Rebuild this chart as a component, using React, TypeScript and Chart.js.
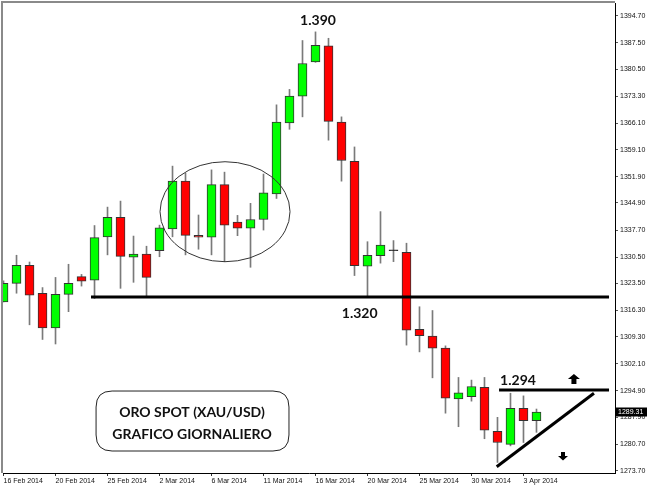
import React, { useEffect, useRef } from 'react';
import { Chart, registerables } from 'chart.js';

Chart.register(...registerables);

// ---- data ----
const dates = [
  '16 Feb 2014', '17 Feb 2014', '18 Feb 2014', '19 Feb 2014', '20 Feb 2014', '21 Feb 2014',
  '23 Feb 2014', '24 Feb 2014', '25 Feb 2014', '26 Feb 2014', '27 Feb 2014', '28 Feb 2014',
  '2 Mar 2014', '3 Mar 2014', '4 Mar 2014', '5 Mar 2014', '6 Mar 2014', '7 Mar 2014',
  '9 Mar 2014', '10 Mar 2014', '11 Mar 2014', '12 Mar 2014', '13 Mar 2014', '14 Mar 2014',
  '16 Mar 2014', '17 Mar 2014', '18 Mar 2014', '19 Mar 2014', '20 Mar 2014', '21 Mar 2014',
  '23 Mar 2014', '24 Mar 2014', '25 Mar 2014', '26 Mar 2014', '27 Mar 2014', '28 Mar 2014',
  '30 Mar 2014', '31 Mar 2014', '1 Apr 2014', '2 Apr 2014', '3 Apr 2014', '4 Apr 2014',
];

const opens = [
  1318.6, 1323.5, 1328.3, 1320.9, 1311.7, 1320.6, 1325.3, 1324.4, 1335.9, 1341.1, 1330.5, 1331.3,
  1332.2, 1338.0, 1350.7, 1336.3, 1335.8, 1349.8, 1339.8, 1338.2, 1340.5, 1347.3, 1366.2, 1373.3,
  1382.4, 1386.7, 1366.4, 1356.0, 1328.1, 1330.9, 1332.2, 1331.8, 1311.3, 1309.5, 1306.3, 1292.8,
  1293.4, 1295.9, 1284.2, 1280.7, 1290.3, 1287.0,
];
const highs = [
  1324.2, 1331.0, 1329.2, 1322.4, 1325.1, 1328.6, 1325.9, 1338.9, 1343.8, 1345.4, 1336.1, 1333.4,
  1339.0, 1354.7, 1352.8, 1341.7, 1353.7, 1353.1, 1341.6, 1344.8, 1352.6, 1371.0, 1375.1, 1388.1,
  1390.4, 1388.7, 1367.8, 1359.8, 1334.6, 1342.6, 1334.9, 1334.2, 1317.3, 1316.3, 1306.9, 1298.5,
  1297.8, 1298.5, 1287.9, 1294.3, 1293.6, 1290.1,
];
const lows = [
  1318.6, 1320.9, 1312.5, 1308.6, 1307.4, 1316.0, 1322.8, 1319.5, 1331.1, 1322.2, 1323.8, 1320.0,
  1330.6, 1335.9, 1331.1, 1332.6, 1331.1, 1329.3, 1336.2, 1327.8, 1337.7, 1346.1, 1364.5, 1367.8,
  1382.3, 1361.6, 1350.7, 1325.6, 1320.2, 1328.9, 1329.3, 1307.1, 1305.3, 1298.4, 1289.0, 1285.4,
  1292.2, 1282.2, 1275.9, 1280.3, 1281.2, 1283.9,
];
const closes = [
  1323.5, 1328.3, 1320.4, 1311.7, 1320.6, 1323.5, 1324.1, 1335.7, 1341.1, 1330.7, 1331.3, 1325.1,
  1338.3, 1350.7, 1336.3, 1335.8, 1349.8, 1339.0, 1338.2, 1340.5, 1347.6, 1366.4, 1373.3, 1382.0,
  1386.8, 1366.6, 1356.2, 1328.2, 1331.0, 1333.7, 1332.2, 1311.1, 1309.6, 1306.3, 1293.0, 1294.4,
  1296.1, 1284.5, 1281.2, 1290.3, 1287.0, 1289.3,
];

const priceTicks = [
  1394.7, 1387.5, 1380.5, 1373.3, 1366.1, 1359.1, 1351.9, 1344.9, 1337.7, 1330.5, 1323.5,
  1316.3, 1309.3, 1302.1, 1294.9, 1287.9, 1280.7, 1273.7,
];
const dateTickIndex = [0, 4, 8, 12, 16, 20, 24, 28, 32, 36, 40];
const currentPriceLabel = '1289.31';

// annotation levels (price / bar index coordinates)
const supportLevel = 1319.9;
const supportLabel = '1.320';
const peakLabel = '1.390';
const resistanceLevel = 1295.16;
const resistanceLabel = '1.294';
const titleLines = ['ORO SPOT (XAU/USD)', 'GRAFICO GIORNALIERO'];

const UP = '#00ff00';
const DOWN = '#ff0000';
const DOJI = '#000000';
const WICK = '#7a7a7a';

const annotate = {
  id: 'annotate',
  afterDraw(chart: any) {
    const { ctx, chartArea: ca, scales } = chart;
    const xs = scales.x;
    const ys = scales.y;
    const px = (i: number) => xs.getPixelForValue(i);
    const py = (p: number) => ys.getPixelForValue(p);
    ctx.save();

    // frame (gray top/left)
    ctx.strokeStyle = '#8a8a8a';
    ctx.lineWidth = 2;
    ctx.beginPath();
    ctx.moveTo(ca.left - 1, ca.bottom);
    ctx.lineTo(ca.left - 1, ca.top - 1);
    ctx.lineTo(ca.right, ca.top - 1);
    ctx.stroke();

    // support line 1.320
    ctx.strokeStyle = '#000';
    ctx.lineWidth = 3;
    ctx.beginPath();
    ctx.moveTo(px(6.73), py(supportLevel));
    ctx.lineTo(px(46.58), py(supportLevel));
    ctx.stroke();

    // resistance 1.294
    ctx.beginPath();
    ctx.moveTo(px(38.12), py(resistanceLevel));
    ctx.lineTo(px(46.58), py(resistanceLevel));
    ctx.stroke();

    // rising trend line
    ctx.beginPath();
    ctx.moveTo(px(37.94), py(1274.76));
    ctx.lineTo(px(45.42), py(1294.28));
    ctx.stroke();

    // ellipse
    ctx.lineWidth = 1;
    ctx.strokeStyle = '#333';
    const ex0 = px(12.04), ex1 = px(22.04), ey0 = py(1355.87), ey1 = py(1329.28);
    ctx.beginPath();
    ctx.ellipse((ex0 + ex1) / 2, (ey0 + ey1) / 2, (ex1 - ex0) / 2, (ey1 - ey0) / 2, 0, 0, Math.PI * 2);
    ctx.stroke();

    // rounded box
    const bx0 = px(7.12), bx1 = px(21.96), by0 = py(1294.89), by1 = py(1278.94);
    const r = 16;
    ctx.strokeStyle = '#222';
    ctx.beginPath();
    ctx.moveTo(bx0 + r, by0);
    ctx.lineTo(bx1 - r, by0);
    ctx.quadraticCurveTo(bx1, by0, bx1, by0 + r);
    ctx.lineTo(bx1, by1 - r);
    ctx.quadraticCurveTo(bx1, by1, bx1 - r, by1);
    ctx.lineTo(bx0 + r, by1);
    ctx.quadraticCurveTo(bx0, by1, bx0, by1 - r);
    ctx.lineTo(bx0, by0 + r);
    ctx.quadraticCurveTo(bx0, by0, bx0 + r, by0);
    ctx.stroke();

    // texts
    ctx.fillStyle = '#111';
    ctx.textAlign = 'center';
    ctx.textBaseline = 'middle';
    ctx.font = 'bold 14px Lato';
    ctx.fillText(peakLabel, px(24.19), py(1393.56));
    ctx.fillText(supportLabel, px(27.4), py(1315.48));
    ctx.fillText(resistanceLabel, px(39.58), py(1297.82));
    ctx.fillText(titleLines[0], px(14.5), py(1289.3));
    ctx.fillText(titleLines[1], px(14.5), py(1283.46));

    // arrows
    const ux = px(43.88), uy = py(1298.08);
    ctx.fillStyle = '#000';
    ctx.beginPath();
    ctx.moveTo(ux, uy - 5);
    ctx.lineTo(ux + 6, uy);
    ctx.lineTo(ux + 2.5, uy);
    ctx.lineTo(ux + 2.5, uy + 5);
    ctx.lineTo(ux - 2.5, uy + 5);
    ctx.lineTo(ux - 2.5, uy);
    ctx.lineTo(ux - 6, uy);
    ctx.closePath();
    ctx.fill();
    const dx = px(43.04), dy = py(1277.6);
    ctx.beginPath();
    ctx.moveTo(dx, dy + 4.5);
    ctx.lineTo(dx + 5, dy);
    ctx.lineTo(dx + 2, dy);
    ctx.lineTo(dx + 2, dy - 4);
    ctx.lineTo(dx - 2, dy - 4);
    ctx.lineTo(dx - 2, dy);
    ctx.lineTo(dx - 5, dy);
    ctx.closePath();
    ctx.fill();

    // current price label
    const cy = py(closes[closes.length - 1]);
    ctx.fillStyle = '#000';
    ctx.fillRect(ca.right, Math.round(cy) - 4.5, 32, 9);
    ctx.fillStyle = '#fff';
    ctx.font = '7px "Liberation Sans"';
    ctx.textAlign = 'left';
    ctx.fillText(currentPriceLabel, ca.right + 3, Math.round(cy));

    ctx.restore();
  },
};

export default function App() {
  const ref = useRef<HTMLCanvasElement>(null);
  useEffect(() => {
    const canvas = ref.current;
    if (!canvas) return;
    const idx = dates.map((_, i) => i);
    const wickData = idx.map((i) => ({ x: i, y: [lows[i], highs[i]] }));
    const bodyData = idx.map((i) => ({ x: i, y: [opens[i], closes[i]] }));
    const bodyColors = idx.map((i) =>
      closes[i] === opens[i] ? DOJI : closes[i] > opens[i] ? UP : DOWN
    );

    const chart = new Chart(canvas, {
      type: 'bar',
      data: {
        datasets: [
          {
            data: wickData as any,
            backgroundColor: WICK,
            barThickness: 1,
            grouped: false,
            order: 2,
          },
          {
            data: bodyData as any,
            backgroundColor: bodyColors,
            borderColor: '#333',
            borderWidth: 1,
            borderSkipped: false,
            barThickness: 9,
            minBarLength: 1,
            grouped: false,
            order: 1,
          },
        ],
      },
      options: {
        responsive: false,
        animation: false,
        events: [],
        layout: { padding: { top: 3, left: 3, right: 0, bottom: 0 } },
        plugins: { legend: { display: false }, tooltip: { enabled: false } },
        scales: {
          x: {
            type: 'linear',
            offset: false,
            min: -0.04,
            max: 47.04,
            afterBuildTicks: (s: any) => {
              s.ticks = dateTickIndex.map((v) => ({ value: v }));
            },
            afterFit: (s: any) => {
              s.height = 15;
              s.paddingLeft = 0;
              s.paddingRight = 0;
            },
            ticks: {
              autoSkip: false,
              maxRotation: 0,
              align: 'start',
              padding: 1,
              color: '#111',
              font: { family: 'Liberation Sans', size: 7 },
              callback: (v: any) => dates[v] ?? '',
            },
            grid: { offset: false, drawOnChartArea: false, drawTicks: true, tickLength: 3, color: '#333' },
            border: { display: true, color: '#000', width: 1 },
          },
          y: {
            type: 'linear',
            position: 'right',
            min: 1273.09,
            max: 1398.08,
            afterBuildTicks: (s: any) => {
              s.ticks = priceTicks.map((v) => ({ value: v }));
            },
            afterFit: (s: any) => {
              s.width = 35;
              s.paddingTop = 0;
              s.paddingBottom = 0;
            },
            ticks: {
              autoSkip: false,
              padding: 2,
              color: '#111',
              font: { family: 'Liberation Sans', size: 7 },
              callback: (v: any) => Number(v).toFixed(2),
            },
            grid: { drawOnChartArea: false, drawTicks: true, tickLength: 3, color: '#555' },
            border: { display: true, color: '#000', width: 1 },
          },
        },
      },
      plugins: [annotate],
    } as any);
    return () => chart.destroy();
  }, []);

  return (
    <div style={{ position: 'fixed', left: 0, top: 0, width: 650, height: 488, background: '#fff' }}>
      <canvas ref={ref} width={650} height={488} style={{ display: 'block', width: 650, height: 488 }} />
    </div>
  );
}
